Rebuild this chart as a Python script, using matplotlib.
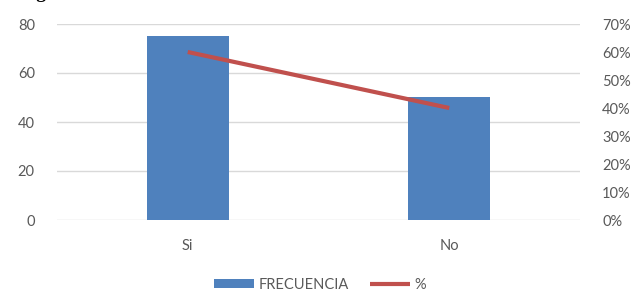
import matplotlib
matplotlib.use('Agg')
import matplotlib.pyplot as plt
from matplotlib.ticker import FuncFormatter

plt.rcParams['font.family'] = ['Lato', 'DejaVu Sans']

categorias = ['Si', 'No']
frecuencia = [75, 50]
porcentaje = [60, 40]

azul = '#4F81BD'
rojo = '#C0504D'
gris = '#595959'

fig = plt.figure(figsize=(6.4, 2.92), dpi=100)
ax = fig.add_axes([57/640, 1-220/292, 523/640, 196/292])
ax2 = ax.twinx()

x = list(range(len(categorias)))
ax.bar(x, frecuencia, width=0.315, color=azul, label='FRECUENCIA', zorder=2)
ax2.plot(x, porcentaje, color=rojo, lw=3, solid_capstyle='butt', label='%')

ax.set_xlim(-0.5, 1.5)
ax.set_ylim(0, 80)
ax.set_yticks([0, 20, 40, 60, 80])
ax2.set_ylim(0, 70)
ax2.set_yticks(range(0, 71, 10))
ax2.yaxis.set_major_formatter(FuncFormatter(lambda v, p: f'{v:.0f}%'))

ax.set_xticks(x)
ax.set_xticklabels(categorias)
ax.grid(axis='y', color='#D9D9D9', lw=1, zorder=0)
ax.set_axisbelow(True)

for a in (ax, ax2):
    for s in a.spines.values():
        s.set_visible(False)
    a.tick_params(length=0, labelsize=10.5, colors=gris)
ax.tick_params(axis='y', pad=16)
ax.tick_params(axis='x', pad=14)
ax2.tick_params(axis='y', pad=16)

h1, l1 = ax.get_legend_handles_labels()
h2, l2 = ax2.get_legend_handles_labels()
leg = fig.legend(h1 + h2, l1 + l2, loc='center', bbox_to_anchor=(0.5, 1-285/292),
                 ncol=2, frameon=False, fontsize=10.5, handlelength=2.8,
                 handleheight=0.6, handletextpad=0.3, columnspacing=1.4)
for t in leg.get_texts():
    t.set_color(gris)

# titulo cortado arriba (solo asoma el borde inferior)
fig.text(20/640, 1+2/292, 'Figura', fontsize=14, fontweight='bold',
         family='Liberation Serif', color='black', va='baseline')

fig.savefig('out.png', dpi=100)
